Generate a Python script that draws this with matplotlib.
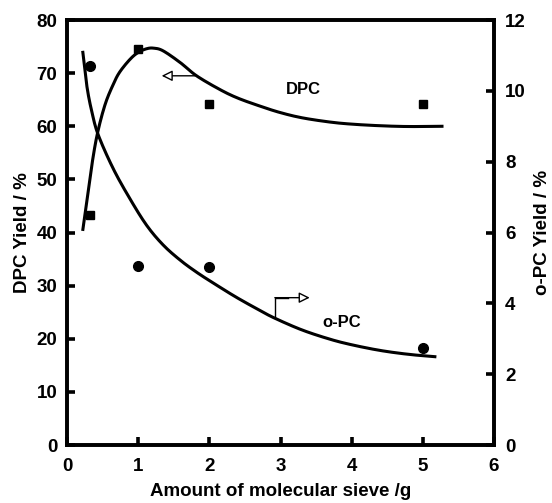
import matplotlib
matplotlib.use("Agg")
import matplotlib.pyplot as plt
import numpy as np

plt.rcParams['font.family'] = ['Liberation Sans', 'DejaVu Sans']
plt.rcParams['font.weight'] = 'bold'

# measured points
sieve = [0.33, 1, 2, 5]
dpc_yield = [43.3, 74.6, 64.1, 64.1]
opc_yield = [10.7, 5.06, 5.02, 2.73]

# fitted curves
dpc_fit_x = [0.22, 0.30, 0.37, 0.44, 0.54, 0.65, 0.74, 0.885, 1.0, 1.12, 1.22, 1.35,
             1.59, 1.82, 2.15, 2.4, 2.71, 2.99, 3.3, 3.69, 4.0, 4.4, 4.8, 5.29]
dpc_fit_y = [40.3, 48.0, 54.5, 59.4, 64.3, 67.9, 70.2, 72.6, 73.9, 74.6, 74.7, 74.2,
             72.0, 69.5, 66.9, 65.3, 63.8, 62.6, 61.6, 60.8, 60.4, 60.1, 59.95, 60.0]
opc_fit_x = [0.22, 0.28, 0.35, 0.44, 0.65, 0.885, 1.12, 1.35, 1.59, 1.82, 2.05,
             2.38, 2.71, 2.92, 3.3, 3.69, 4.0, 4.4, 4.8, 5.19]
opc_fit_y = [11.13, 10.12, 9.4, 8.75, 7.8, 6.95, 6.2, 5.65, 5.22, 4.88, 4.58,
             4.17, 3.80, 3.58, 3.25, 2.99, 2.83, 2.67, 2.56, 2.49]

x_ticks = [0, 1, 2, 3, 4, 5, 6]
left_ticks = [0, 10, 20, 30, 40, 50, 60, 70, 80]
right_ticks = [0, 2, 4, 6, 8, 10, 12]


def smooth(xs, ys, n=12):
    # catmull-rom through the read points, just so the drawn line is not jagged
    p = np.column_stack([xs, ys]).astype(float)
    p = np.vstack([2 * p[0] - p[1], p, 2 * p[-1] - p[-2]])
    t = np.linspace(0, 1, n, endpoint=False)[:, None]
    out = []
    for i in range(1, len(p) - 2):
        p0, p1, p2, p3 = p[i - 1], p[i], p[i + 1], p[i + 2]
        out.append(0.5 * (2 * p1 + (-p0 + p2) * t + (2 * p0 - 5 * p1 + 4 * p2 - p3) * t ** 2
                          + (-p0 + 3 * p1 - 3 * p2 + p3) * t ** 3))
    out.append(p[-2][None, :])
    out = np.vstack(out)
    return out[:, 0], out[:, 1]


fig = plt.figure(figsize=(5.52, 5.03), dpi=100)
ax = fig.add_axes([0.1214, 0.1153, 0.7736, 0.8449])
ax2 = ax.twinx()

ax.plot(*smooth(dpc_fit_x, dpc_fit_y), color='black', lw=2.2, solid_capstyle='butt')
ax.plot(sieve, dpc_yield, 's', color='black', ms=5.5, clip_on=False)
ax2.plot(*smooth(opc_fit_x, opc_fit_y), color='black', lw=2.2, solid_capstyle='butt')
ax2.plot(sieve, opc_yield, 'o', color='black', ms=7, clip_on=False)

ax.set_xlim(0, 6)
ax.set_ylim(0, 80)
ax2.set_ylim(0, 12)
ax.set_xticks(x_ticks)
ax.set_yticks(left_ticks)
ax2.set_yticks(right_ticks)

for a in (ax, ax2):
    for s in a.spines.values():
        s.set_linewidth(2.6)
    a.tick_params(direction='in', length=6, width=2.6, labelsize=13.5, pad=7)
ax.tick_params(axis='x', pad=9)
ax2.tick_params(axis='y', pad=8)

ax.set_xlabel('Amount of molecular sieve /g', fontsize=13.5, fontweight='bold', labelpad=6)
ax.set_ylabel('DPC Yield / %', fontsize=13.5, fontweight='bold', labelpad=4)
ax2.set_ylabel('o-PC Yield / %', fontsize=13.5, fontweight='bold', labelpad=6)

# series labels and pointer arrows
ax.text(3.32, 67.0, 'DPC', fontsize=12, fontweight='bold', ha='center', va='center')
ax2.text(3.86, 3.45, 'o-PC', fontsize=12, fontweight='bold', ha='center', va='center')

ax.annotate('', xy=(1.33, 69.5), xytext=(1.80, 69.5),
            arrowprops=dict(arrowstyle='-|>', fc='white', ec='black', lw=1.0,
                            mutation_scale=16, shrinkA=0, shrinkB=0))
ax2.plot([2.92, 2.92, 3.1], [3.58, 4.16, 4.16], color='black', lw=1.0)
ax2.annotate('', xy=(3.41, 4.16), xytext=(2.92, 4.16),
             arrowprops=dict(arrowstyle='-|>', fc='white', ec='black', lw=1.0,
                             mutation_scale=16, shrinkA=0, shrinkB=0))

fig.savefig('out.png', dpi=100)
